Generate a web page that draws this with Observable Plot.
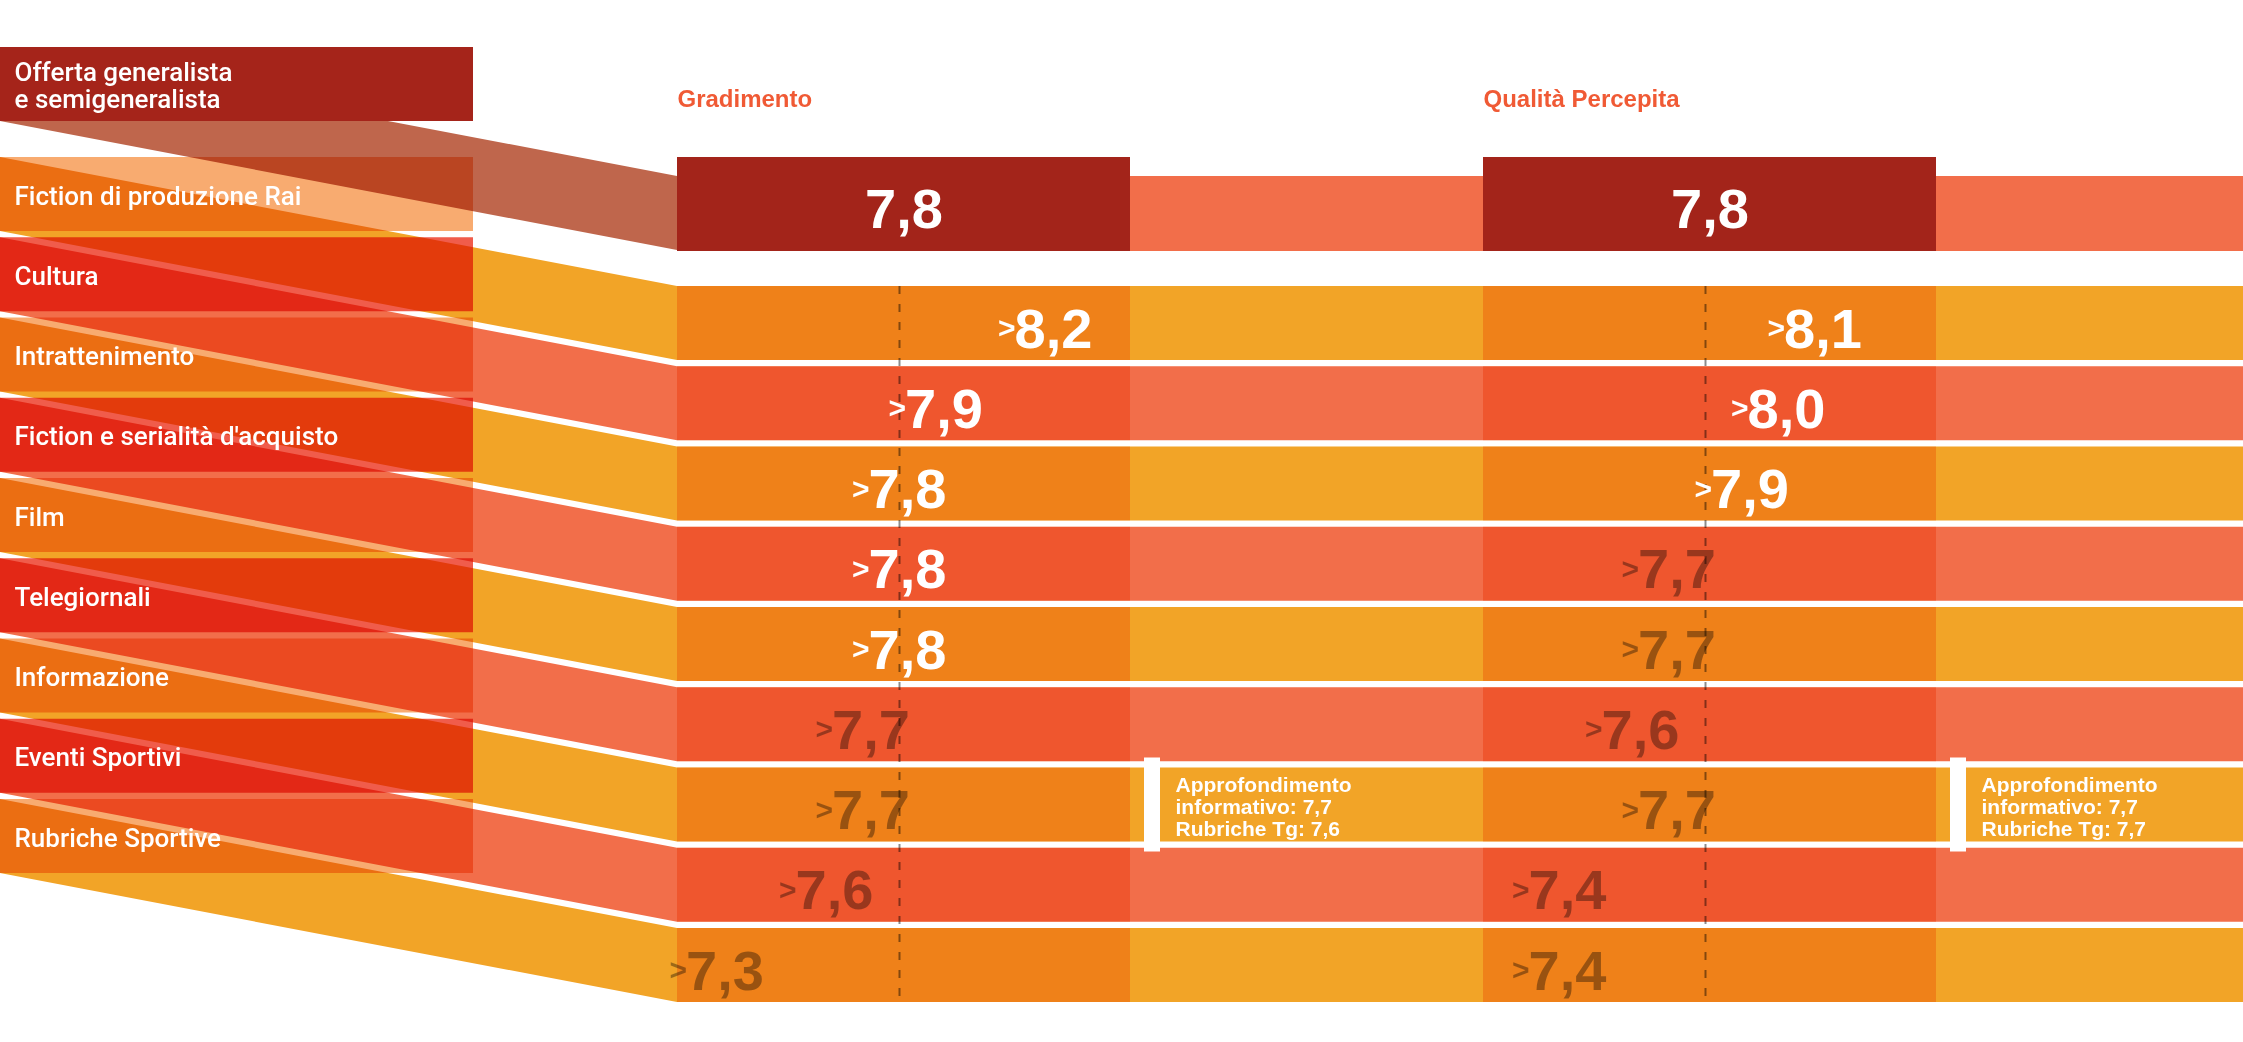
<!DOCTYPE html>
<html><head><meta charset="utf-8">
<script src="https://cdn.jsdelivr.net/npm/d3@7"></script>
<script src="https://cdn.jsdelivr.net/npm/@observablehq/plot@0.6"></script>
<style>
html,body{margin:0;padding:0;background:#fff;}
#chart svg{display:block;}
</style></head><body><div id="chart"></div>
<script>
// ---------------- DATA ----------------
const groupLabel = ["Offerta generalista", "e semigeneralista"];
const categories = ["Fiction di produzione Rai", "Cultura", "Intrattenimento", "Fiction e serialità d'acquisto", "Film", "Telegiornali", "Informazione", "Eventi Sportivi", "Rubriche Sportive"];
const measures = ["Gradimento", "Qualità Percepita"];
const overallValues = [7.8, 7.8];
const gradimento = [8.2, 7.9, 7.8, 7.8, 7.8, 7.7, 7.7, 7.6, 7.3];
const qualita = [8.1, 8.0, 7.9, 7.7, 7.7, 7.6, 7.7, 7.4, 7.4];
const noteCategory = "Informazione";
const noteGradimento = ["Approfondimento", "informativo: 7,7", "Rubriche Tg: 7,6"];
const noteQualita = ["Approfondimento", "informativo: 7,7", "Rubriche Tg: 7,7"];

// ---------------- LAYOUT ----------------
const W = 2243, H = 1042;
const leftW = 473, fanEnd = 677;
const colStarts = [677, 1483], colW = 453;
const rowH = 74, rowPitch = 80.25;
const leftTop0 = 157, rightTop0 = 286;
const headLeftTop = 47, headRightTop = 176, darkTop = 157;
const pxPerPoint = 365, refOffset = 222;

const C = {
  yellow: "#F2A427", salmon: "#F26E4A", headRibbon: "#BF664C",
  leftOrange: "#F8AB70", leftRed: "#F05C4B", headBox: "#A5241A",
  column: "#FCC89E", dark: "#A3241A", title: "#F05A35"
};
const fmt = v => v.toFixed(1).replace(".", ",");
const NUM_FONT = "'Liberation Sans', Arial, sans-serif";
const LABEL_FONT = "Roboto, 'Liberation Sans', sans-serif";

const rows = categories.map((cat, i) => ({
  cat, i,
  lt: leftTop0 + i * rowPitch,
  rt: rightTop0 + i * rowPitch,
  even: i % 2 === 0
}));

const ribbonPts = rows.flatMap(r => [0, fanEnd, W].map(x => {
  const top = x === 0 ? r.lt : r.rt;
  return {row: r.i, x, y1: top, y2: top + rowH, fill: r.even ? C.yellow : C.salmon};
}));
const headRibbon = [
  {x: 0, y1: headLeftTop, y2: headLeftTop + rowH},
  {x: fanEnd, y1: headRightTop, y2: headRightTop + rowH}
];

const series = [gradimento, qualita];
const scoreX = overallValues.map((o, c) => d3.scaleLinear()
  .domain([o - 1, o + 1])
  .range([colStarts[c] + refOffset - pxPerPoint, colStarts[c] + refOffset + pxPerPoint]));

const cols = measures.map((m, c) => ({m, c, x1: colStarts[c], x2: colStarts[c] + colW, ref: scoreX[c](overallValues[c]), v: overallValues[c]}));
const colCells = cols.flatMap(col => rows.map(r => ({x1: col.x1, x2: col.x2, y1: r.rt, y2: r.rt + rowH})));

const valueLabels = series.flatMap((vals, c) => vals.map((v, i) => {
  const x = scoreX[c](v);
  const yb = rightTop0 + i * rowPitch + rowH / 2 + 24;
  const light = v >= overallValues[c];
  return {x, yb, v, text: fmt(v), fill: light ? "#ffffff" : "#000000", op: light ? 1 : 0.36};
}));

const noteRow = rows[categories.indexOf(noteCategory)];
const notes = [noteGradimento, noteQualita].map((lines, c) => ({c, lines, x: colStarts[c] + colW}));
const noteLines = notes.flatMap(n => n.lines.map((t, k) => ({x: n.x + 45, yb: noteRow.rt + 24 + k * 22, t})));

const leftLabels = rows.map(r => ({x: 14, yb: r.lt + 47, t: r.cat}));
const headLabels = groupLabel.map((t, k) => ({x: 14, yb: 80 + k * 27, t}));

const chart = Plot.plot({
  width: W, height: H, margin: 0,
  x: {domain: [0, W], range: [0, W], axis: null},
  y: {domain: [0, H], range: [0, H], axis: null},
  color: {type: "identity"},
  style: {background: "#fff"},
  marks: [
    // ribbons
    Plot.area(ribbonPts, {x1: "x", y1: "y1", y2: "y2", z: "row", fill: "fill", curve: "linear"}),
    Plot.area(headRibbon, {x1: "x", y1: "y1", y2: "y2", fill: C.headRibbon, curve: "linear"}),
    Plot.rect([{}], {x1: fanEnd, x2: W, y1: headRightTop, y2: headRightTop + rowH + 1, fill: C.salmon}),
    // left boxes
    Plot.rect(rows, {x1: 0, x2: leftW, y1: d => d.lt, y2: d => d.lt + rowH, fill: d => d.even ? C.leftOrange : C.leftRed, mixBlendMode: "multiply"}),
    Plot.rect([{}], {x1: 0, x2: leftW, y1: headLeftTop, y2: headLeftTop + rowH, fill: C.headBox}),
    // columns
    Plot.rect(colCells, {x1: "x1", x2: "x2", y1: "y1", y2: "y2", fill: C.column, mixBlendMode: "multiply"}),
    Plot.rect(cols, {x1: "x1", x2: "x2", y1: darkTop, y2: headRightTop + rowH + 1, fill: C.dark}),
    Plot.ruleX(cols, {x: "ref", y1: rightTop0, y2: rightTop0 + 8 * rowPitch + rowH, stroke: "#000", strokeOpacity: 0.45, strokeWidth: 2, strokeDasharray: "8,10"}),
    // note bars
    Plot.rect(notes, {x1: d => d.x + 14, x2: d => d.x + 30, y1: noteRow.rt - 10, y2: noteRow.rt + rowH + 10, fill: "#fff"}),
    // texts
    Plot.text(cols, {x: "x1", y: 106, text: "m", textAnchor: "start", lineAnchor: "bottom", fill: C.title, fontSize: 24, fontWeight: 700, fontFamily: NUM_FONT}),
    Plot.text(cols, {x: d => (d.x1 + d.x2) / 2, y: 227, text: d => fmt(d.v), textAnchor: "middle", lineAnchor: "bottom", fill: "#fff", fontSize: 56, fontWeight: 700, fontFamily: NUM_FONT}),
    Plot.text(valueLabels, {x: d => d.x - 31, y: "yb", text: "text", textAnchor: "start", lineAnchor: "bottom", fill: "fill", fillOpacity: "op", fontSize: 56, fontWeight: 700, fontFamily: NUM_FONT}),
    Plot.text(valueLabels, {x: d => d.x - 30, y: d => d.yb - 9.5, text: () => ">", textAnchor: "end", lineAnchor: "bottom", fill: "fill", fillOpacity: "op", fontSize: 30, fontWeight: 700, fontFamily: NUM_FONT}),
    Plot.text(noteLines, {x: "x", y: "yb", text: "t", textAnchor: "start", lineAnchor: "bottom", fill: "#fff", fontSize: 21, fontWeight: 700, fontFamily: NUM_FONT}),
    Plot.text(leftLabels, {x: "x", y: "yb", text: "t", textAnchor: "start", lineAnchor: "bottom", fill: "#fff", fontSize: 26, fontWeight: 500, fontFamily: LABEL_FONT}),
    Plot.text(headLabels, {x: "x", y: "yb", text: "t", textAnchor: "start", lineAnchor: "bottom", fill: "#fff", fontSize: 26, fontWeight: 500, fontFamily: LABEL_FONT})
  ]
});
document.getElementById("chart").appendChild(chart);
</script>
</body></html>
